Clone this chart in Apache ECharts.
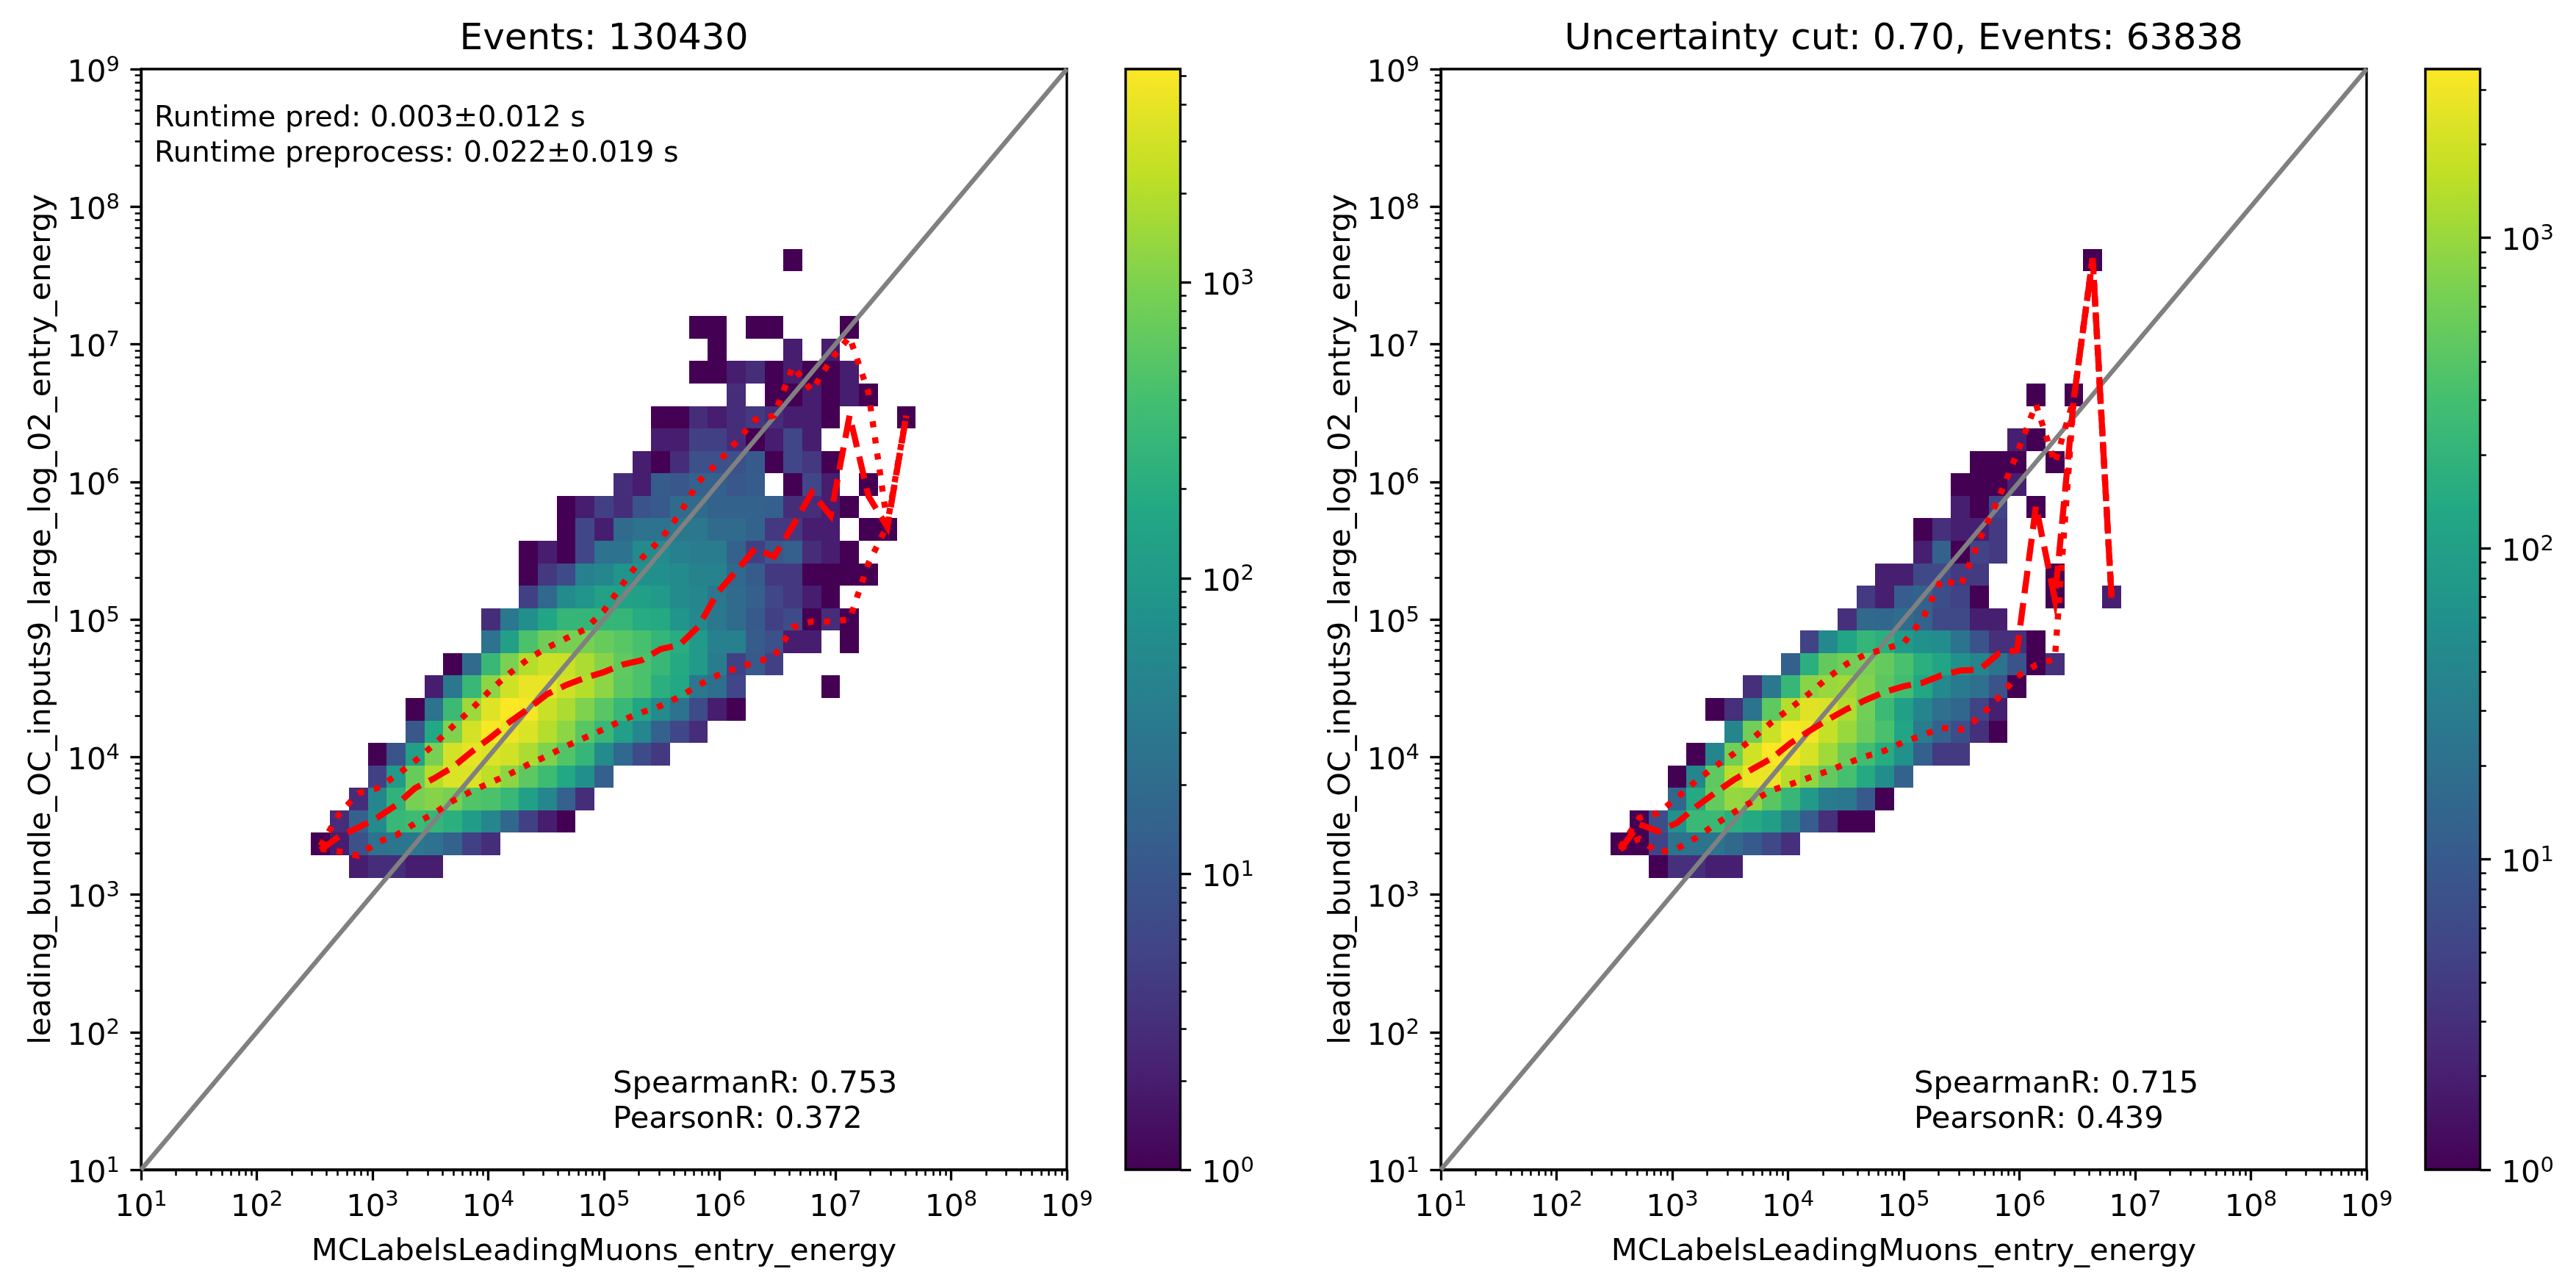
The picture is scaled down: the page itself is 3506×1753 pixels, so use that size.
<!DOCTYPE html>
<html><head><meta charset="utf-8">
<script src="https://cdn.jsdelivr.net/npm/echarts@6/dist/echarts.min.js"></script>
<style>html,body{margin:0;padding:0;background:#fff}#c{width:3506px;height:1753px}</style>
</head><body><div id="c"></div>
<script>
// ---------- bins ----------
const binCount = 49, logMin = 1, logMax = 9;
// ---------- histogram counts: [row index, first column index, counts (0 = empty)] ----------
const leftCells = [
 [13,11,[2,3,3,2,2]],
 [14,9,[1,2,8,25,28,30,25,15,5,3]],
 [15,10,[3,14,60,300,350,280,220,110,50,17,5,2,1]],
 [16,11,[3,50,250,900,1100,900,500,450,300,120,50,14,3]],
 [17,12,[5,100,700,2000,3300,3400,2200,1200,600,350,170,70,13]],
 [18,12,[1,9,120,900,3000,3800,3300,2900,1800,1000,500,280,60,18,7,4]],
 [19,14,[10,170,1000,3000,5000,4200,3300,2000,1200,550,300,120,50,14,6,3]],
 [20,14,[1,25,320,1500,3500,5200,4800,2600,1800,1000,550,300,150,60,25,7,2,1]],
 [21,15,[2,30,300,1200,2800,4000,4000,2800,2000,1200,600,450,220,170,30,22,6,0,0,0,0,1]],
 [22,16,[1,20,300,950,2000,2700,2600,1800,1100,650,450,300,180,100,35,5,11,5]],
 [23,18,[25,120,450,800,900,900,700,550,420,280,200,100,40,40,12,8,2,2,0,1]],
 [24,18,[3,30,70,150,280,280,280,280,190,180,80,55,30,20,11,5,7,1,3,1]],
 [25,20,[5,18,60,80,130,130,120,100,60,50,30,20,13,6,4,2,1]],
 [26,20,[1,4,7,40,50,80,70,70,60,45,45,18,12,4,4,1,1,1,1]],
 [27,20,[1,2,1,6,25,25,60,60,40,35,35,15,5,10,13,3,2,1]],
 [28,22,[1,6,2,20,25,25,30,30,20,20,15,4,4,2,2,0,1,1]],
 [29,22,[1,2,5,3,9,11,20,20,15,15,15,13,3,3,2,1]],
 [30,25,[3,2,12,10,14,14,10,12,0,1,6,2,0,1]],
 [31,26,[2,1,3,8,8,8,11,1,6,4,1]],
 [32,27,[2,2,5,5,3,1,2,6,2]],
 [33,27,[1,1,3,2,3,4,3,2,2,1,0,0,0,1]],
 [34,31,[3,0,1,1,2,1,2,1]],
 [35,29,[1,1,2,3,1,2,1,1,2]],
 [36,30,[1,0,0,0,2,0,2]],
 [37,29,[1,1,0,1,1,0,0,0,1]],
 [40,34,[1]]
];
const rightCells = [
 [13,11,[1,3,3,2,2]],
 [14,9,[1,1,5,22,22,22,16,10,6,3]],
 [15,10,[1,7,60,240,240,170,140,90,35,11,3,1,1]],
 [16,12,[15,140,500,950,900,420,220,80,30,25,10,1]],
 [17,12,[1,40,450,1500,2800,2700,1400,900,480,300,140,50,13]],
 [18,13,[1,40,600,2000,3400,3000,2100,1100,550,280,150,60,12,4,4]],
 [19,15,[40,600,1800,3200,3000,1700,1000,550,320,120,30,13,7,3,1]],
 [20,14,[1,3,22,450,1400,2400,2200,1300,600,250,100,40,20,15,5,2]],
 [21,16,[3,25,220,800,1000,1100,750,430,280,130,45,28,20,8,1]],
 [22,18,[12,170,480,600,650,500,320,170,120,60,40,22,8,1,3]],
 [23,19,[5,45,120,210,170,80,60,50,22,8,3,3,1]],
 [24,21,[3,16,15,18,13,6,6,2,2]],
 [25,22,[4,2,11,13,7,5,1,0,0,0,1,0,0,2]],
 [26,23,[2,2,6,6,4,4,0,0,0,1]],
 [27,25,[2,13,1,5,4]],
 [28,25,[1,3,2,2,4]],
 [29,27,[2,1,5,0,1]],
 [30,27,[1,1,1,2]],
 [31,28,[1,1,1,0,1]],
 [32,30,[2,1]],
 [34,31,[1,0,1]],
 [40,34,[1]]
];
// ---------- profile lines: first column index and log10(y) per column ----------
const lineStartColumn = 9;
const leftMedianLog = [3.323,3.425,3.487,3.558,3.650,3.773,3.844,3.926,4.038,4.141,4.253,4.351,4.457,4.523,4.576,4.617,4.672,4.703,4.784,4.815,4.948,5.193,5.35,5.515,5.456,5.682,5.921,5.754,6.481,5.897,5.670,6.481];
const leftUpperLog = [3.354,3.589,3.736,3.773,3.865,3.971,4.089,4.222,4.349,4.488,4.607,4.713,4.795,4.862,4.927,5.064,5.258,5.444,5.581,5.765,6.0,6.135,6.290,6.452,6.481,6.839,6.660,6.886,7.053,6.648,5.694,6.481];
const leftLowerLog = [3.333,3.313,3.282,3.380,3.431,3.517,3.589,3.681,3.752,3.814,3.875,3.946,4.008,4.079,4.141,4.202,4.269,4.324,4.371,4.438,4.521,4.593,4.645,4.688,4.729,4.943,4.984,4.984,5.0,5.408,5.682,6.481];
const rightMedianLog = [3.325,3.512,3.459,3.521,3.637,3.738,3.833,3.913,3.989,4.100,4.189,4.272,4.349,4.415,4.473,4.514,4.539,4.594,4.628,4.634,4.749,4.776,5.825,5.146,6.60,7.625,5.158];
const rightUpperLog = [3.343,3.557,3.592,3.703,3.824,3.930,4.023,4.135,4.251,4.354,4.461,4.578,4.678,4.746,4.785,4.829,5.003,5.294,5.241,5.575,5.873,6.207,6.564,6.135,6.60,7.625,5.158];
const rightLowerLog = [3.334,3.405,3.304,3.334,3.411,3.507,3.596,3.678,3.758,3.801,3.850,3.898,3.954,4.005,4.046,4.109,4.158,4.212,4.198,4.286,4.429,4.585,4.669,4.712,6.60,7.625,5.158];
// ---------- scales ----------
const diagonal = [10, 1e9];
const axisMajor = [1e1,1e2,1e3,1e4,1e5,1e6,1e7,1e8,1e9];
const axisMinor = [2e1,3e1,4e1,5e1,6e1,7e1,8e1,9e1,2e2,3e2,4e2,5e2,6e2,7e2,8e2,9e2,2e3,3e3,4e3,5e3,6e3,7e3,8e3,9e3,2e4,3e4,4e4,5e4,6e4,7e4,8e4,9e4,2e5,3e5,4e5,5e5,6e5,7e5,8e5,9e5,2e6,3e6,4e6,5e6,6e6,7e6,8e6,9e6,2e7,3e7,4e7,5e7,6e7,7e7,8e7,9e7,2e8,3e8,4e8,5e8,6e8,7e8,8e8,9e8];
const barMajor = [1,10,100,1000];
const barMinorBase = [2,3,4,5,6,7,8,9,20,30,40,50,60,70,80,90,200,300,400,500,600,700,800,900,2000,3000,4000,5000];
const leftBarMax = 5260, rightBarMax = 3490;
// ---------- texts ----------
const xName = 'MCLabelsLeadingMuons_entry_energy';
const yName = 'leading_bundle_OC_inputs9_large_log_02_entry_energy';
const titles = ['Events: 130430','Uncertainty cut: 0.70, Events: 63838'];
const runtimeText = 'Runtime pred: 0.003±0.012 s\nRuntime preprocess: 0.022±0.019 s';
const corrLeft = 'SpearmanR: 0.753\nPearsonR: 0.372';
const corrRight = 'SpearmanR: 0.715\nPearsonR: 0.439';
const viridis = ['#440154','#482475','#414487','#355f8d','#2a788e','#21918c','#22a884','#44bf70','#7ad151','#bddf26','#fde725'];
// ---------- style ----------
const FONT='"DejaVu Sans"', TF=41.67, LW=3.33;
const G=[{left:192,top:94,width:1260,height:1498},{left:1961,top:94,width:1260,height:1498},
         {left:1532,top:94,width:74.5,height:1498},{left:3301,top:94,width:74.5,height:1498}];
const rich={b:{fontFamily:FONT,fontSize:TF,color:'#000',lineHeight:50,verticalAlign:'middle',padding:[12,0,0,0]},
            s:{fontFamily:FONT,fontSize:29,color:'#000',lineHeight:50,verticalAlign:'middle',padding:[0,0,10,0]}};
const fmt=v=>`{b|10}{s|${Math.round(Math.log10(v))}}`;
const hex=h=>[1,3,5].map(k=>parseInt(h.substr(k,2),16));
function color(t){t=Math.max(0,Math.min(1,t))*10;const a=Math.min(9,Math.floor(t)),f=t-a,A=hex(viridis[a]),B=hex(viridis[a+1]);
  return 'rgb('+A.map((c,k)=>Math.round(c+(B[k]-c)*f)).join(',')+')';}
const edge=k=>Math.pow(10,logMin+k*(logMax-logMin)/binCount);
const centre=k=>Math.pow(10,logMin+(k+0.5)*(logMax-logMin)/binCount);
function cellData(rows){const out=[];rows.forEach(([j,s,vals])=>vals.forEach((c,n)=>{if(c>0){const i=s+n;out.push([edge(i),edge(i+1),edge(j),edge(j+1),c]);}}));return out;}
const lineData=a=>a.map((v,n)=>[centre(lineStartColumn+n),Math.pow(10,v)]);
function axes(idx,kind,isY,extra){return Object.assign({type:'log',logBase:10,gridIndex:idx,min:10,max:1e9,position:isY?'left':'bottom',
  axisLine:{show:kind==='major',onZero:false,lineStyle:{color:'#000',width:LW}},
  splitLine:{show:false},minorTick:{show:false},minorSplitLine:{show:false},
  axisTick:{show:true,inside:false,length:kind==='major'?14.6:8.3,lineStyle:{color:'#000',width:kind==='major'?LW:2.5},customValues:kind==='major'?axisMajor:axisMinor},
  axisLabel:{show:kind==='major',margin:isY?29:21.5,formatter:fmt,rich,customValues:axisMajor,hideOverlap:false,showMinLabel:true,showMaxLabel:true}},extra||{});}
const xAxis=[],yAxis=[];
[0,1].forEach(g=>{
  xAxis.push(axes(g,'major',false,{name:xName,nameLocation:'middle',nameGap:91,nameTextStyle:{fontFamily:FONT,fontSize:TF,color:'#000'}}));
  yAxis.push(axes(g,'major',true,{name:yName,nameLocation:'middle',nameGap:113.5,nameTextStyle:{fontFamily:FONT,fontSize:TF,color:'#000'}}));
  xAxis.push(axes(g,'minor',false)); yAxis.push(axes(g,'minor',true));
});
[2,3].forEach((g,k)=>{
  const mx=k?rightBarMax:leftBarMax, minor=barMinorBase.filter(v=>v<mx);
  xAxis.push({type:'value',gridIndex:g,min:0,max:1,show:false});
  const base={type:'log',logBase:10,gridIndex:g,min:1,max:mx,position:'right',splitLine:{show:false},minorTick:{show:false},
    axisLine:{show:false,onZero:false}};
  yAxis.push(Object.assign({},base,{axisTick:{show:true,length:14.6,lineStyle:{color:'#000',width:LW},customValues:barMajor},
    axisLabel:{show:true,margin:29,formatter:fmt,rich,customValues:barMajor}}));
  yAxis.push(Object.assign({},base,{axisTick:{show:true,length:8.3,lineStyle:{color:'#000',width:2.5},customValues:minor},axisLabel:{show:false}}));
});
const cellSeries=(data,xi,yi,mx)=>({type:'custom',xAxisIndex:xi,yAxisIndex:yi,z:2,clip:true,encode:{x:[0,1],y:[2,3]},data,
  renderItem:(p,api)=>{const a=api.coord([api.value(0),api.value(2)]),b=api.coord([api.value(1),api.value(3)]);
    const x=Math.round(a[0]),y=Math.round(b[1]);
    return{type:'rect',shape:{x,y,width:Math.round(b[0])-x,height:Math.round(a[1])-y},
      style:{fill:color(Math.log(api.value(4))/Math.log(mx))}};}});
const line=(data,xi,yi,col,w,dash,z)=>({type:'line',xAxisIndex:xi,yAxisIndex:yi,data,showSymbol:false,symbol:'none',z,clip:true,silent:true,
  lineStyle:{color:col,width:w,type:dash,cap:'butt',join:'miter'}});
const DASH=[30.8,13.3],DOT=[8.33,13.75];
const barSeries=(xi,yi,mx)=>({type:'custom',xAxisIndex:xi,yAxisIndex:yi,z:3,clip:false,encode:{x:0,y:[1,2]},data:[[0,1,mx]],
  renderItem:(p,api)=>{const a=api.coord([0,1]),b=api.coord([1,mx]);
    return{type:'rect',shape:{x:a[0],y:b[1],width:b[0]-a[0],height:a[1]-b[1]},
      style:{stroke:'#000',lineWidth:LW,fill:new echarts.graphic.LinearGradient(0,1,0,0,viridis.map((c,n)=>({offset:n/10,color:c})))}};}});
const series=[
 cellSeries(cellData(leftCells),0,0,leftBarMax),
 line(diagonal.map(v=>[v,v]),0,0,'#808080',6.25,'solid',3),
 line(lineData(leftMedianLog),0,0,'#ff0000',8.33,DASH,4),
 line(lineData(leftUpperLog),0,0,'#ff0000',8.33,DOT,4),
 line(lineData(leftLowerLog),0,0,'#ff0000',8.33,DOT,4),
 cellSeries(cellData(rightCells),2,2,rightBarMax),
 line(diagonal.map(v=>[v,v]),2,2,'#808080',6.25,'solid',3),
 line(lineData(rightMedianLog),2,2,'#ff0000',8.33,DASH,4),
 line(lineData(rightUpperLog),2,2,'#ff0000',8.33,DOT,4),
 line(lineData(rightLowerLog),2,2,'#ff0000',8.33,DOT,4),
 barSeries(4,4,leftBarMax),
 barSeries(5,6,rightBarMax)
];
const txt=(x,y,t,f)=>({type:'text',x,y,silent:true,z:20,style:{text:t,fill:'#000',font:`${f}px ${FONT}`,lineHeight:48,textVerticalAlign:'top'}});
const chart=echarts.init(document.getElementById('c'),null,{renderer:'canvas',width:3506,height:1753});
chart.setOption({animation:false,backgroundColor:'#fff',
 title:[{text:titles[0],left:817,top:24,textAlign:'center',textStyle:{fontFamily:FONT,fontSize:50,fontWeight:'normal',color:'#000'}},
        {text:titles[1],left:2586,top:24,textAlign:'center',textStyle:{fontFamily:FONT,fontSize:50,fontWeight:'normal',color:'#000'}}],
 grid:G.map((g,n)=>Object.assign({},g,{show:n<2,borderColor:'#000',borderWidth:LW,backgroundColor:'transparent',containLabel:false})),
 xAxis,yAxis,series,
 graphic:[txt(210,138,runtimeText,39.6),txt(834,1452,corrLeft,TF),txt(2605,1452,corrRight,TF)]});
</script></body></html>
